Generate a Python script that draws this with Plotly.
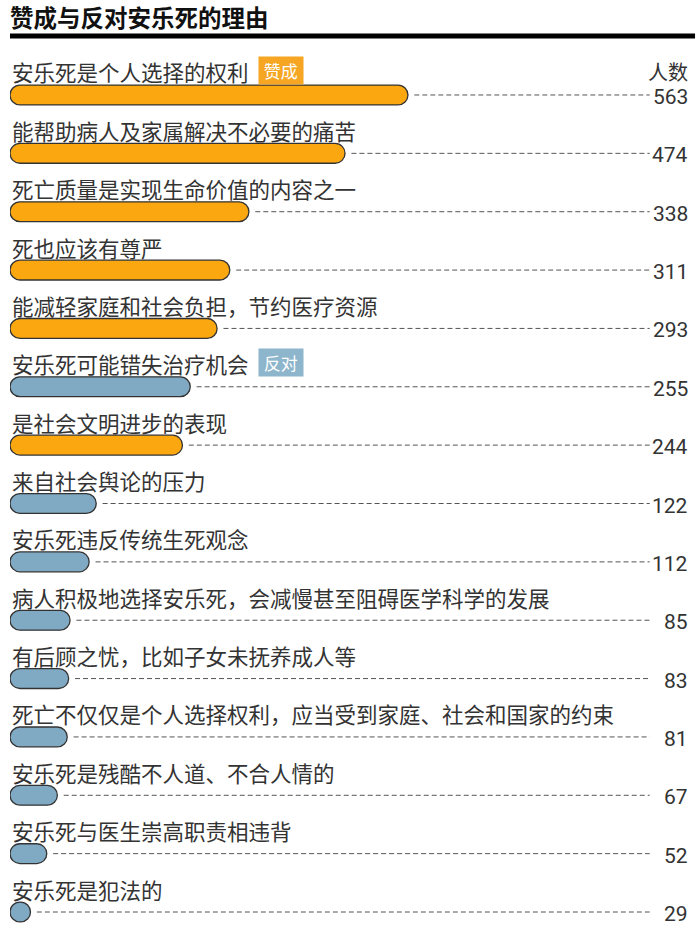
import plotly.graph_objects as go

# 赞成与反对安乐死的理由 —— 人数
reasons = [
    "安乐死是个人选择的权利",
    "能帮助病人及家属解决不必要的痛苦",
    "死亡质量是实现生命价值的内容之一",
    "死也应该有尊严",
    "能减轻家庭和社会负担，节约医疗资源",
    "安乐死可能错失治疗机会",
    "是社会文明进步的表现",
    "来自社会舆论的压力",
    "安乐死违反传统生死观念",
    "病人积极地选择安乐死，会减慢甚至阻碍医学科学的发展",
    "有后顾之忧，比如子女未抚养成人等",
    "死亡不仅仅是个人选择权利，应当受到家庭、社会和国家的约束",
    "安乐死是残酷不人道、不合人情的",
    "安乐死与医生崇高职责相违背",
    "安乐死是犯法的",
]
counts = [563, 474, 338, 311, 293, 255, 244, 122, 112, 85, 83, 81, 67, 52, 29]
stance = ["赞成", "赞成", "赞成", "赞成", "赞成", "反对", "赞成",
          "反对", "反对", "反对", "反对", "反对", "反对", "反对", "反对"]

COLORS = {"赞成": "#FBA70F", "反对": "#80AAC4"}
TAG_COLORS = {"赞成": "#F6A623", "反对": "#8DB5CC"}
FONT = "Noto Sans CJK SC"
NUM_FONT = "Liberation Sans Narrow, Roboto, Noto Sans"

rows = list(range(len(reasons)))
X_MAX = 962      # keeps 563 ending near the middle of the page
LINE_END = 905   # where the dotted leader stops, before the number
GAP = 9
BAR_W = 0.34

W, H = 700, 935

# an explicit base makes these "floating" bars, which plotly rounds at both ends
fig = go.Figure(go.Bar(
    x=counts, base=[0] * len(counts), y=rows, orientation="h",
    width=BAR_W, hoverinfo="skip",
    marker=dict(
        color=[COLORS[s] for s in stance],
        line=dict(color="#333333", width=1.3),
        cornerradius="50%",
    ),
))

annotations = []
shapes = []
for i, (label, v) in enumerate(zip(reasons, counts)):
    annotations.append(dict(
        x=0, y=i, xref="x", yref="y", text=label, showarrow=False,
        xanchor="left", yanchor="middle", yshift=23,
        font=dict(family=FONT, size=21.5, color="#333333"),
    ))
    annotations.append(dict(
        x=1, y=i, xref="paper", yref="y", text=str(v), showarrow=False,
        xanchor="right", yanchor="middle", yshift=-2,
        font=dict(family=NUM_FONT, size=21, color="#333333"),
    ))
    shapes.append(dict(
        type="line", xref="x", yref="y", x0=v + GAP, x1=LINE_END, y0=i, y1=i,
        line=dict(color="#555555", width=1, dash="5px,3px"),
    ))

# stance tags next to the first reason of each group
for s in ["赞成", "反对"]:
    i = stance.index(s)
    annotations.append(dict(
        x=0.3647, y=i, xref="paper", yref="y", text=f" {s} ", showarrow=False,
        xanchor="left", yanchor="middle", yshift=24,
        bgcolor=TAG_COLORS[s], borderpad=1,
        font=dict(family=FONT, size=17, color="white"),
    ))

annotations.append(dict(
    x=1, y=0, xref="paper", yref="y", text="人数", showarrow=False,
    xanchor="right", yanchor="middle", yshift=23,
    font=dict(family=FONT, size=20, color="#333333"),
))

# thick rule under the title
shapes.append(dict(
    type="line", xref="paper", yref="paper", x0=0, x1=1.0074, y0=1.0158, y1=1.0158,
    line=dict(color="black", width=5),
))

fig.update_layout(
    width=W,
    height=H,
    margin=dict(l=10, r=10, t=50, b=0),
    paper_bgcolor="white",
    plot_bgcolor="white",
    showlegend=False,
    title=dict(
        text="<b>赞成与反对安乐死的理由</b>",
        x=10 / W, xanchor="left", y=1 - 19 / H, yanchor="middle",
        font=dict(family=FONT, size=23.5, color="#111111"),
    ),
    xaxis=dict(range=[0, X_MAX], visible=False, fixedrange=True),
    yaxis=dict(range=[14.394, -0.771], visible=False, fixedrange=True),
    annotations=annotations,
    shapes=shapes,
)

# drop the browser's default 8px page margin so the figure fills the window
fig.write_html(
    "out.html",
    config={"displayModeBar": False},
    post_script="document.body.style.margin='0';",
)
